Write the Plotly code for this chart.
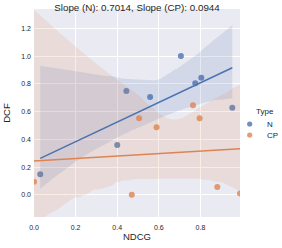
import numpy as np
import plotly.graph_objects as go

# Data
n_ndcg = [0.030, 0.400, 0.444, 0.558, 0.706, 0.775, 0.804, 0.953]
n_dcf = [0.149, 0.360, 0.749, 0.705, 1.001, 0.804, 0.845, 0.628]
cp_ndcg = [0.000, 0.470, 0.505, 0.589, 0.764, 0.796, 0.881, 0.990]
cp_dcf = [0.094, 0.000, 0.552, 0.487, 0.645, 0.552, 0.056, 0.010]
groups = ["N", "CP"]
title_text = "Slope (N): 0.7014, Slope (CP): 0.0944"
legend_title = "Type"
x_ticks = [0.0, 0.2, 0.4, 0.6, 0.8]
y_ticks = [0.0, 0.2, 0.4, 0.6, 0.8, 1.0, 1.2]

colors = {"N": "#4C72B0", "CP": "#DD8452"}
fills = {"N": "rgba(76,114,176,0.15)", "CP": "rgba(221,132,82,0.15)"}

W, H = 282, 248
L, R, T, B = 34, 240, 9, 217  # plot area in pixels


def px2paper(px, py):
    return (px - L) / (R - L), (B - py) / (B - T)


def fit(x, y, n_boot=1000, seed=0):
    """Linear fit with a bootstrap 95% band, as seaborn's regplot does."""
    x = np.asarray(x, float)
    y = np.asarray(y, float)
    n = len(x)
    grid = np.linspace(x.min(), x.max(), 100)
    b, a = np.polyfit(x, y, 1)
    yhat = a + b * grid
    rng = np.random.default_rng(seed)
    X = np.c_[np.ones(n), x]
    G = np.c_[np.ones(len(grid)), grid]
    boots = []
    for _ in range(n_boot):
        idx = rng.integers(0, n, n)
        beta = np.linalg.pinv(X[idx]).dot(y[idx])
        boots.append(G.dot(beta))
    boots = np.array(boots)
    lo, hi = np.percentile(boots, [2.5, 97.5], axis=0)
    return grid, yhat, lo, hi


data = {"N": (n_ndcg, n_dcf), "CP": (cp_ndcg, cp_dcf)}
fig = go.Figure()
lines = []
for k, g in enumerate(groups):
    x, y = data[g]
    grid, yhat, lo, hi = fit(x, y, seed=k + 1)
    fig.add_trace(go.Scatter(x=x, y=y, mode="markers", name=g,
                             marker=dict(color=colors[g], size=6, opacity=0.8),
                             showlegend=False))
    fig.add_trace(go.Scatter(x=np.concatenate([grid, grid[::-1]]),
                             y=np.concatenate([hi, lo[::-1]]),
                             fill="toself", fillcolor=fills[g], mode="none",
                             showlegend=False, hoverinfo="skip"))
    lines.append(go.Scatter(x=grid, y=yhat, mode="lines", showlegend=False,
                            line=dict(color=colors[g], width=1.5)))
for ln in lines:
    fig.add_trace(ln)

font = "Liberation Sans, Arial, sans-serif"
txt = "#262626"

# compact seaborn-like legend
shapes = []
annos = []
lx, ly = px2paper(254, 111.7)
annos.append(dict(text=legend_title, x=lx, y=ly, xref="paper", yref="paper",
                  xanchor="left", yanchor="middle", showarrow=False,
                  font=dict(size=8, color=txt)))
for i, g in enumerate(groups):
    py = 124 + i * 11
    mx, my = px2paper(249.7, py)
    shapes.append(dict(type="circle", xref="paper", yref="paper",
                       xsizemode="pixel", ysizemode="pixel",
                       xanchor=mx, yanchor=my, x0=-2.6, x1=2.6, y0=-2.6, y1=2.6,
                       fillcolor=colors[g], opacity=0.8, line=dict(width=0)))
    tx, ty = px2paper(265.2, py)
    annos.append(dict(text=g, x=tx, y=ty, xref="paper", yref="paper",
                      xanchor="left", yanchor="middle", showarrow=False,
                      font=dict(size=8, color=txt)))

fig.update_layout(
    width=W, height=H,
    margin=dict(l=L, r=W - R, t=T, b=H - B, pad=0),
    paper_bgcolor="white", plot_bgcolor="#EAEAF2",
    font=dict(family=font, color=txt, size=8),
    title=dict(text=title_text, x=(L + R) / 2 / W, xanchor="center",
               y=1 - 7.5 / H, yanchor="middle", automargin=False,
               font=dict(size=9.8, color=txt)),
    showlegend=False,
    shapes=shapes,
    annotations=annos,
)
fig.update_xaxes(range=[0, 0.99], tickvals=x_ticks, ticktext=[f"{v:.1f}" for v in x_ticks],
                 showgrid=True, gridcolor="white", gridwidth=1, zeroline=False,
                 showline=False, ticks="", tickfont=dict(size=7, color=txt),
                 automargin=False, ticklabelstandoff=5,
                 title=dict(text="NDCG", font=dict(size=9.5, color=txt), standoff=3))
fig.update_yaxes(range=[-0.16, 1.34], tickvals=y_ticks, ticktext=[f"{v:.1f}" for v in y_ticks],
                 showgrid=True, gridcolor="white", gridwidth=1, zeroline=False,
                 showline=False, ticks="", tickfont=dict(size=7, color=txt),
                 automargin=False, ticklabelstandoff=2,
                 title=dict(text="DCF", font=dict(size=9.5, color=txt), standoff=8))

fig.write_html("out.html", post_script="document.body.style.margin='0';",
               config={"displayModeBar": False})
